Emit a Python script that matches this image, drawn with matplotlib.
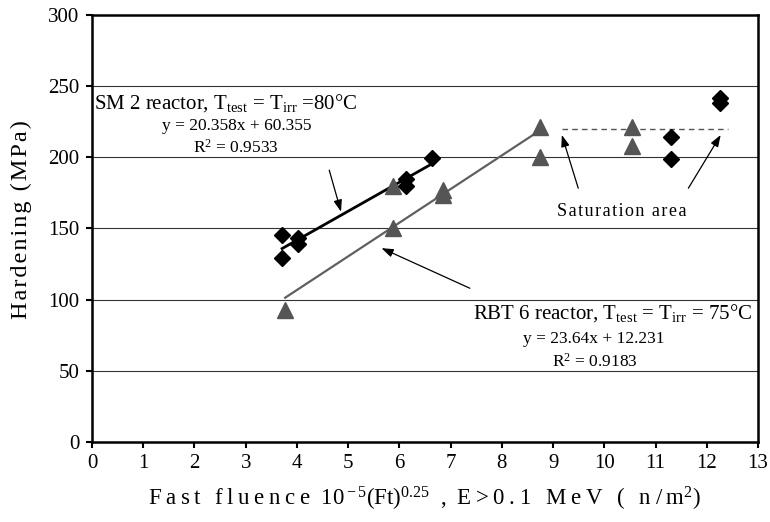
import numpy as np
import matplotlib
matplotlib.use('Agg')
import matplotlib.pyplot as plt

plt.rcParams['font.family'] = ['Liberation Serif', 'DejaVu Serif']
plt.rcParams['mathtext.fontset'] = 'custom'
plt.rcParams['mathtext.rm'] = 'Liberation Serif'
plt.rcParams['mathtext.it'] = 'Liberation Serif:italic'

# SM 2 reactor data (diamonds)
sm2_x = [3.71, 3.71, 4.02, 4.02, 6.12, 6.12, 6.63, 11.31, 11.31, 12.26, 12.26]
sm2_y = [145.5, 129.5, 143.5, 139.0, 185.0, 180.0, 199.5, 214.5, 198.6, 241.5, 238.0]

# RBT 6 reactor data (triangles)
rbt_x = [3.77, 5.88, 5.88, 6.85, 6.85, 8.74, 8.74, 10.53, 10.53]
rbt_y = [93.0, 150.5, 179.5, 173.5, 177.0, 221.6, 200.5, 221.6, 208.0]

# linear fits
sm2_a, sm2_b = 20.358, 60.355
rbt_a, rbt_b = 23.64, 12.231
sm2_fit_x = np.array([3.71, 6.63])
rbt_fit_x = np.array([3.77, 8.74])

# saturation level
sat_x = [9.17, 12.42]
sat_y = 220


def spaced(s, sp='\u200a'):
    # letter spacing like the original figure
    return sp.join(s)


fig = plt.figure(figsize=(7.7, 5.22), dpi=100)
ax = fig.add_axes([0.1195, 0.1533, 0.865, 0.818])

for yy in [50, 100, 150, 200, 250]:
    ax.axhline(yy, color='#333333', lw=0.8, zorder=1)

ax.plot(rbt_fit_x, rbt_a * rbt_fit_x + rbt_b, color='#606060', lw=1.6, zorder=2)
ax.plot(sm2_fit_x, sm2_a * sm2_fit_x + sm2_b, color='black', lw=2.0, zorder=2)
ax.plot(sat_x, [sat_y, sat_y], color='#555555', lw=1.0, ls=(0, (4, 3)), zorder=2)

ax.plot(rbt_x, rbt_y, ls='none', marker='^', ms=12, color='#555555', zorder=3)
ax.plot(sm2_x, sm2_y, ls='none', marker='D', ms=8, color='black', zorder=4)

arr = dict(arrowstyle='-|>,head_length=0.7,head_width=0.25', color='black', lw=0.9,
           shrinkA=0, shrinkB=0)
ax.annotate('', xy=(4.86, 161.8), xytext=(4.63, 191.0), arrowprops=arr)
ax.annotate('', xy=(5.65, 136.2), xytext=(7.375, 108.0), arrowprops=arr)
ax.annotate('', xy=(9.17, 215.7), xytext=(9.49, 178.3), arrowprops=arr)
ax.annotate('', xy=(12.27, 215.7), xytext=(11.64, 178.3), arrowprops=arr)

ax.text(2.62, 238.2, 'SM 2 reactor, T$_{\\rm test}$ = T$_{\\rm irr}$ =80°C',
        ha='center', va='center', fontsize=15)
ax.text(2.82, 222.3, 'y = 20.358x + 60.355', ha='center', va='center', fontsize=12.5)
ax.text(2.80, 206.8, 'R$^{2}$ = 0.9533', ha='center', va='center', fontsize=12.5)

ax.text(10.17, 90.9, 'RBT 6 reactor, T$_{\\rm test}$ = T$_{\\rm irr}$ = 75°C',
        ha='center', va='center', fontsize=15)
ax.text(9.80, 72.4, 'y = 23.64x + 12.231', ha='center', va='center', fontsize=12.5)
ax.text(9.82, 56.4, 'R$^{2}$ = 0.9183', ha='center', va='center', fontsize=12.5)

ax.text(10.34, 161.8, spaced('Saturation area'), ha='center', va='center', fontsize=13)

ax.set_xlim(0, 13)
ax.set_ylim(0, 300)
ax.set_xticks(range(0, 14))
ax.set_yticks(range(0, 301, 50))
ax.tick_params(direction='out', length=4, width=1.5, labelsize=15, pad=5)
for s in ax.spines.values():
    s.set_linewidth(1.8)

xlab = (spaced('Fast fluence', '\u2009') + '  10$^{\\rm -5}$(Ft)$^{\\rm 0.25}$  ,'
        + spaced(' E>0.1 MeV ( n/m', '\u2009') + '$^{\\rm 2}$)')
ax.set_xlabel(xlab, fontsize=16.5, labelpad=8)
ax.set_ylabel(spaced('Hardening (MPa)'), fontsize=17.5)
ax.yaxis.set_label_coords(-0.09, 0.522)

fig.savefig('out.png', dpi=100)
